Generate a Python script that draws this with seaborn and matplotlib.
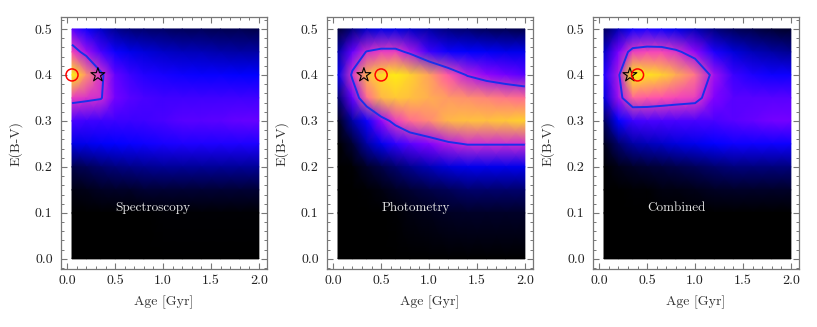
import numpy as np
import matplotlib
matplotlib.use('Agg')
import matplotlib.pyplot as plt
import matplotlib.ticker as ticker
from matplotlib.colors import ListedColormap
import seaborn as sns

# grid of the likelihood maps (normalised)
ages = [0.05, 0.2, 0.35, 0.5, 0.65, 0.8, 1.0, 1.2, 1.4, 1.6, 1.8, 2.0]
ebv = [0.5, 0.45, 0.4, 0.35, 0.3, 0.25, 0.2, 0.15, 0.1, 0.0]

spectroscopy = [
    [0.40, 0.30, 0.22, 0.16, 0.13, 0.12, 0.11, 0.10, 0.10, 0.09, 0.09, 0.08],
    [0.62, 0.50, 0.38, 0.30, 0.26, 0.24, 0.22, 0.21, 0.20, 0.19, 0.18, 0.18],
    [1.00, 0.78, 0.58, 0.42, 0.36, 0.33, 0.31, 0.30, 0.29, 0.29, 0.28, 0.28],
    [0.60, 0.58, 0.56, 0.44, 0.40, 0.38, 0.37, 0.37, 0.37, 0.37, 0.37, 0.37],
    [0.38, 0.37, 0.36, 0.36, 0.36, 0.37, 0.38, 0.40, 0.40, 0.41, 0.42, 0.42],
    [0.25, 0.26, 0.27, 0.28, 0.29, 0.30, 0.31, 0.32, 0.32, 0.32, 0.32, 0.32],
    [0.08, 0.10, 0.12, 0.14, 0.15, 0.16, 0.17, 0.17, 0.17, 0.17, 0.17, 0.17],
    [0.02, 0.03, 0.04, 0.05, 0.05, 0.06, 0.06, 0.06, 0.06, 0.06, 0.06, 0.06],
    [0.00, 0.00, 0.00, 0.00, 0.00, 0.00, 0.01, 0.01, 0.01, 0.01, 0.01, 0.01],
    [0.00, 0.00, 0.00, 0.00, 0.00, 0.00, 0.00, 0.00, 0.00, 0.00, 0.00, 0.00],
]

photometry = [
    [0.06, 0.14, 0.22, 0.25, 0.25, 0.22, 0.18, 0.14, 0.12, 0.10, 0.09, 0.08],
    [0.18, 0.42, 0.56, 0.60, 0.60, 0.52, 0.36, 0.30, 0.28, 0.27, 0.26, 0.26],
    [0.25, 0.58, 0.86, 0.94, 0.98, 0.92, 0.82, 0.66, 0.54, 0.48, 0.44, 0.40],
    [0.12, 0.42, 0.70, 0.86, 0.90, 0.88, 0.84, 0.80, 0.78, 0.75, 0.72, 0.70],
    [0.03, 0.18, 0.30, 0.48, 0.60, 0.70, 0.76, 0.86, 0.88, 0.88, 0.90, 0.92],
    [0.00, 0.06, 0.18, 0.26, 0.34, 0.40, 0.46, 0.52, 0.56, 0.56, 0.56, 0.56],
    [0.00, 0.01, 0.05, 0.08, 0.12, 0.16, 0.20, 0.24, 0.26, 0.26, 0.26, 0.26],
    [0.00, 0.00, 0.01, 0.02, 0.04, 0.06, 0.08, 0.10, 0.12, 0.12, 0.12, 0.12],
    [0.00, 0.00, 0.00, 0.00, 0.01, 0.02, 0.03, 0.04, 0.05, 0.05, 0.05, 0.05],
    [0.00, 0.00, 0.00, 0.00, 0.00, 0.00, 0.00, 0.00, 0.00, 0.00, 0.00, 0.00],
]

combined = [
    [0.10, 0.20, 0.30, 0.32, 0.30, 0.26, 0.20, 0.14, 0.10, 0.08, 0.06, 0.05],
    [0.22, 0.45, 0.60, 0.62, 0.62, 0.58, 0.48, 0.32, 0.24, 0.20, 0.18, 0.16],
    [0.32, 0.52, 1.00, 0.96, 0.92, 0.84, 0.72, 0.50, 0.36, 0.32, 0.30, 0.30],
    [0.24, 0.50, 0.68, 0.66, 0.64, 0.62, 0.60, 0.46, 0.40, 0.40, 0.40, 0.40],
    [0.10, 0.28, 0.36, 0.38, 0.38, 0.38, 0.38, 0.38, 0.40, 0.42, 0.44, 0.44],
    [0.03, 0.12, 0.18, 0.20, 0.22, 0.24, 0.26, 0.28, 0.30, 0.30, 0.30, 0.30],
    [0.00, 0.03, 0.05, 0.06, 0.07, 0.08, 0.10, 0.12, 0.14, 0.14, 0.14, 0.14],
    [0.00, 0.00, 0.01, 0.01, 0.02, 0.02, 0.03, 0.04, 0.05, 0.05, 0.05, 0.05],
    [0.00, 0.00, 0.00, 0.00, 0.00, 0.00, 0.00, 0.00, 0.00, 0.00, 0.00, 0.00],
    [0.00, 0.00, 0.00, 0.00, 0.00, 0.00, 0.00, 0.00, 0.00, 0.00, 0.00, 0.00],
]

panel_names = ['Spectroscopy', 'Photometry', 'Combined']
best_age = [0.05, 0.5, 0.4]
best_ebv = [0.4, 0.4, 0.4]
true_age = [0.32]
true_ebv = [0.4]
contour_level = 0.55

sns.set_theme(style='ticks', rc={
    'axes.edgecolor': '#777777',
    'xtick.color': '#777777',
    'ytick.color': '#777777',
    'xtick.labelcolor': '#222222',
    'ytick.labelcolor': '#222222',
    'axes.labelcolor': '#333333',
    'axes.linewidth': 0.9,
})
plt.rcParams['font.family'] = ['cmr10', 'DejaVu Serif']
plt.rcParams['axes.formatter.use_mathtext'] = True
plt.rcParams['mathtext.fontset'] = 'cm'

# gnuplot-like palette, stopping at yellow
cmap = ListedColormap(plt.get_cmap('gnuplot2')(np.linspace(0, 0.9, 256)))

fig = plt.figure(figsize=(8.17, 3.27), dpi=100)
W, H = 817, 327
lefts = [61, 327, 593]
X, Y = np.meshgrid(ages, ebv)

for i, grid in enumerate([spectroscopy, photometry, combined]):
    ax = fig.add_axes([lefts[i] / W, (H - 269) / H, 206 / W, 252 / H])
    Z = np.array(grid)
    ax.pcolormesh(X, Y, Z, shading='gouraud', cmap=cmap, vmin=0, vmax=1,
                  rasterized=True)
    ax.contour(X, Y, Z, levels=[contour_level], colors='#1a30ea',
               linewidths=1.4)

    sns.scatterplot(x=true_age, y=true_ebv, ax=ax, marker='*', s=110,
                    color='black', facecolor='none', edgecolor='black',
                    linewidth=0.8, zorder=5)
    sns.scatterplot(x=[best_age[i]], y=[best_ebv[i]], ax=ax, marker='o', s=75,
                    color='red', facecolor='none', edgecolor='red',
                    linewidth=1.1, zorder=5)

    ax.text(0.5, 0.11, panel_names[i], color='#e4e4e4', fontsize=9.5,
            ha='left', va='center')

    ax.set_xlim(-0.065, 2.085)
    ax.set_ylim(-0.022, 0.526)
    ax.xaxis.set_major_locator(ticker.MultipleLocator(0.5))
    ax.xaxis.set_minor_locator(ticker.MultipleLocator(0.1))
    ax.yaxis.set_major_locator(ticker.MultipleLocator(0.1))
    ax.yaxis.set_minor_locator(ticker.MultipleLocator(0.02))
    ax.xaxis.set_major_formatter(ticker.FormatStrFormatter('%.1f'))
    ax.yaxis.set_major_formatter(ticker.FormatStrFormatter('%.1f'))
    ax.tick_params(which='both', direction='in', top=True, right=True,
                   labelsize=10)
    ax.tick_params(which='major', length=4, width=0.8)
    ax.tick_params(which='minor', length=2.2, width=0.7)
    ax.tick_params(axis='x', pad=4)
    ax.tick_params(axis='y', pad=6)

    ax.set_xlabel('Age [Gyr]', fontsize=10, labelpad=6)
    ax.set_ylabel('E(B-V)', fontsize=10, labelpad=9)

fig.savefig('out.png', dpi=100)
